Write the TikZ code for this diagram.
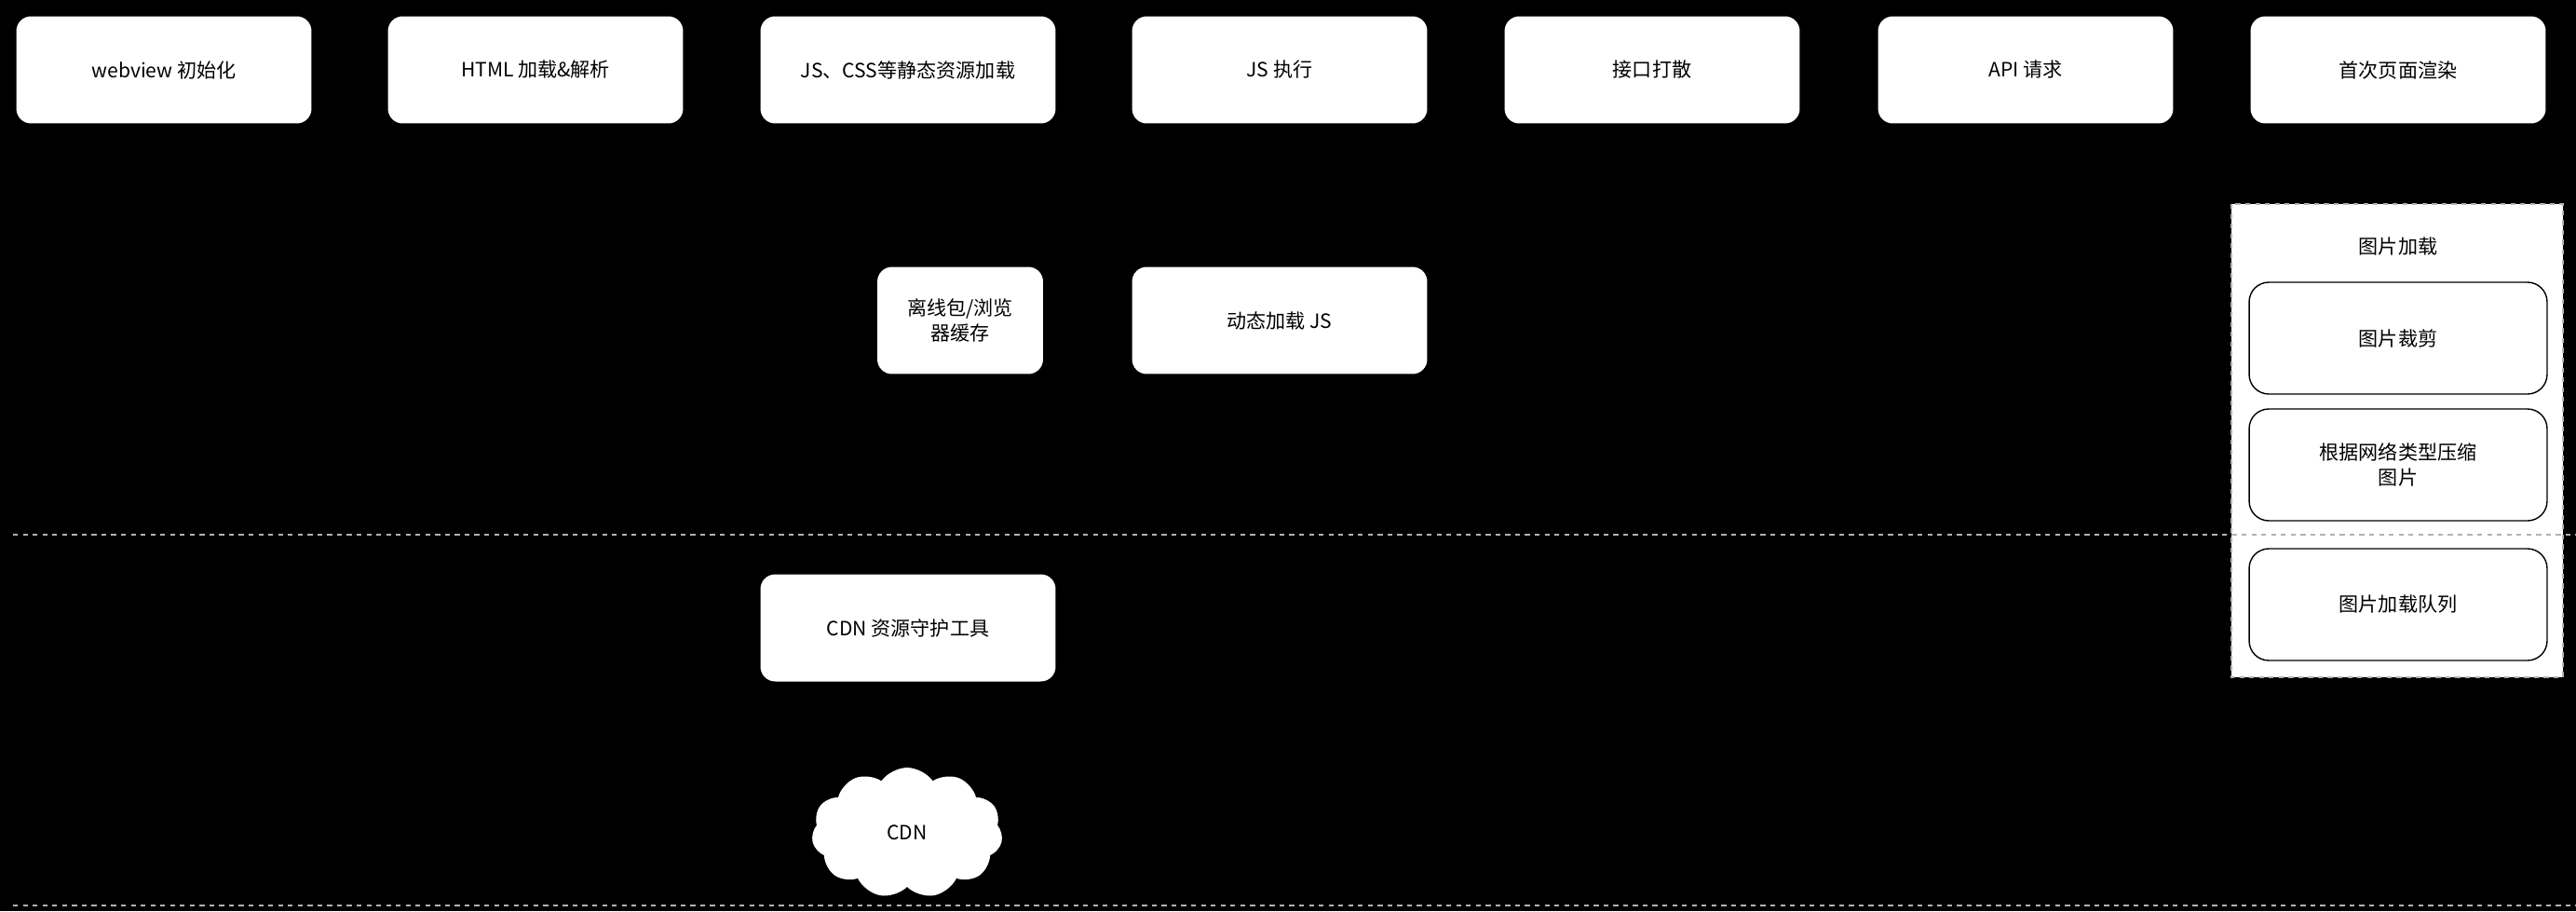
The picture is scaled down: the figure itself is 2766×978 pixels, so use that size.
\documentclass[tikz,border=0pt]{standalone}
\usepackage{fontspec}
\setmainfont{Noto Sans CJK SC}
\usetikzlibrary{shapes.symbols}

\begin{document}
\begin{tikzpicture}[x=0.02cm, y=-0.02cm,
    stage/.style={rectangle, rounded corners=9pt, fill=white, minimum width=6.34cm, minimum height=2.3cm, align=center, font=\fontsize{12}{15}\selectfont, inner sep=0pt},
    sub/.style={rectangle, rounded corners=12pt, draw=black, line width=0.8pt, fill=white, minimum width=6.4cm, minimum height=2.4cm, align=center, font=\fontsize{12}{15}\selectfont, inner sep=0pt},
    divider/.style={draw=gray!60, dashed, line width=0.8pt}
]
    \useasboundingbox[fill=black] (0,0) rectangle (2766,978);

    % Top stages
    \node[stage] (init) at (176,75) {webview 初始化};
    \node[stage] (html) at (575,75) {HTML 加载\&解析};
    \node[stage] (static) at (975,75) {JS、CSS等静态资源加载};
    \node[stage] (jsrun) at (1374,75) {JS 执行};
    \node[stage] (split) at (1774,75) {接口打散};
    \node[stage] (api) at (2175,75) {API 请求};
    \node[stage] (render) at (2575,75) {首次页面渲染};

    % Second row
    \node[stage, minimum width=3.56cm] (cache) at (1031,344) {离线包/浏览\\器缓存};
    \node[stage] (dynjs) at (1374,344) {动态加载 JS};

    % Image loading group
    \draw[fill=white, draw=gray!60, dashed, line width=0.8pt] (2396,219) rectangle (2752,727);
    \node[font=\fontsize{12}{15}\selectfont] (imgtitle) at (2575,264) {图片加载};
    \node[sub] (crop) at (2575,363) {图片裁剪};
    \node[sub] (compress) at (2575,499) {根据网络类型压缩\\图片};
    \node[sub] (queue) at (2575,649) {图片加载队列};

    % Dividers
    \draw[divider] (14,574) -- (2766,574);
    \draw[divider] (14,972) -- (2766,972);

    % CDN layer
    \node[stage] (guard) at (975,674) {CDN 资源守护工具};
    \node[cloud, cloud puffs=11, cloud puff arc=110, aspect=1.5, fill=white, minimum width=4.1cm, minimum height=2.8cm, inner sep=0pt, font=\fontsize{12}{15}\selectfont] (cdn) at (974,894) {CDN};
\end{tikzpicture}
\end{document}
